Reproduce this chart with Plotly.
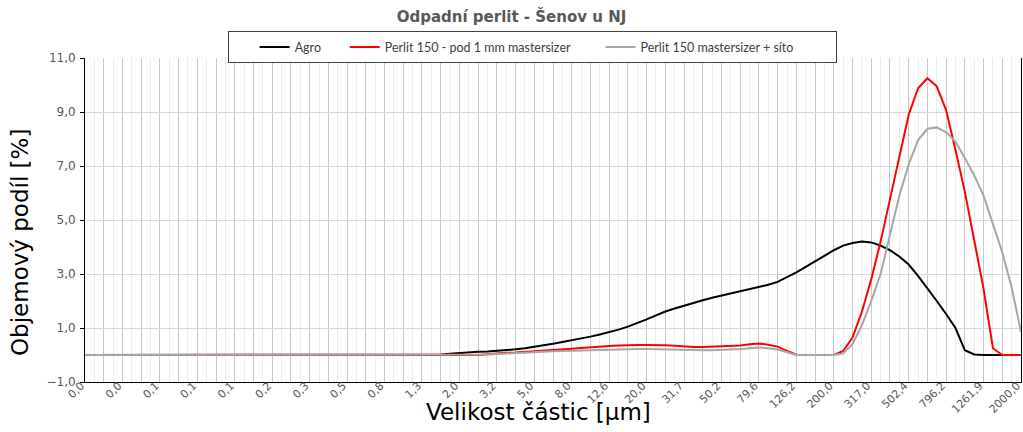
import math
import plotly.graph_objects as go

# Mastersizer size classes [µm]
sizes = [
    0.0200, 0.02244, 0.02518, 0.02825, 0.03170, 0.03557, 0.03991, 0.04477, 0.05024, 0.05637,
    0.06325, 0.07096, 0.07962, 0.08934, 0.1002, 0.1125, 0.1262, 0.1416, 0.1589, 0.1783,
    0.2000, 0.2244, 0.2518, 0.2825, 0.3170, 0.3557, 0.3991, 0.4477, 0.5024, 0.5637,
    0.6325, 0.7096, 0.7962, 0.8934, 1.002, 1.125, 1.262, 1.416, 1.589, 1.783,
    2.000, 2.244, 2.518, 2.825, 3.170, 3.557, 3.991, 4.477, 5.024, 5.637,
    6.325, 7.096, 7.962, 8.934, 10.02, 11.25, 12.62, 14.16, 15.89, 17.83,
    20.00, 22.44, 25.18, 28.25, 31.70, 35.57, 39.91, 44.77, 50.24, 56.37,
    63.25, 70.96, 79.62, 89.34, 100.2, 112.5, 126.2, 141.6, 158.9, 178.3,
    200.0, 224.4, 251.8, 282.5, 317.0, 355.7, 399.1, 447.7, 502.4, 563.7,
    632.5, 709.6, 796.2, 893.4, 1002.0, 1125.0, 1262.0, 1416.0, 1589.0, 1783.0,
    2000.0,
]

tick_labels = ["0,0", "0,0", "0,1", "0,1", "0,1", "0,2", "0,3", "0,5", "0,8", "1,3",
               "2,0", "3,2", "5,0", "8,0", "12,6", "20,0", "31,7", "50,2", "79,6", "126,2",
               "200,0", "317,0", "502,4", "796,2", "1261,9", "2000,0"]

agro = [
    0, 0, 0, 0, 0, 0, 0, 0, 0, 0,
    0, 0, 0, 0, 0, 0, 0, 0, 0, 0,
    0, 0, 0, 0, 0, 0, 0, 0, 0, 0,
    0, 0, 0, 0, 0, 0, 0, 0, 0.02, 0.05,
    0.08, 0.10, 0.12, 0.13, 0.15, 0.17, 0.21, 0.25, 0.30, 0.36,
    0.42, 0.48, 0.54, 0.61, 0.68, 0.76, 0.84, 0.94, 1.05, 1.18,
    1.32, 1.47, 1.61, 1.72, 1.83, 1.93, 2.03, 2.12, 2.20, 2.27,
    2.35, 2.42, 2.50, 2.60, 2.71, 2.88, 3.06, 3.26, 3.47, 3.66,
    3.88, 4.05, 4.15, 4.20, 4.17, 4.05, 3.88, 3.65, 3.35, 2.93,
    2.48, 2.00, 1.52, 1.00, 0.18, 0.02, 0, 0, 0, 0,
    0,
]

perlit_pod_1mm = [
    0, 0, 0, 0, 0, 0, 0, 0, 0, 0,
    0, 0, 0, 0, 0, 0, 0, 0, 0, 0,
    0, 0, 0, 0, 0, 0, 0, 0, 0, 0,
    0, 0, 0, 0, 0, 0, 0, 0, 0, 0,
    0, 0, 0, 0.03, 0.06, 0.08, 0.09, 0.11, 0.13, 0.16,
    0.19, 0.21, 0.23, 0.26, 0.29, 0.31, 0.33, 0.35, 0.37, 0.37,
    0.37, 0.37, 0.36, 0.34, 0.31, 0.30, 0.30, 0.31, 0.31, 0.33,
    0.35, 0.40, 0.43, 0.38, 0.31, 0.15, 0.01, 0, 0, 0,
    0, 0.15, 0.65, 1.60, 2.80, 4.20, 5.74, 7.35, 8.90, 9.88,
    10.25, 9.95, 9.07, 7.59, 6.05, 4.25, 2.45, 0.25, 0, 0,
    0,
]

perlit_sito = [
    0, 0, 0, 0, 0, 0, 0, 0, 0, 0,
    0, 0, 0, 0, 0, 0, 0, 0, 0, 0,
    0, 0, 0, 0, 0, 0, 0, 0, 0, 0,
    0, 0, 0, 0, 0, 0, 0, 0, 0, 0,
    0, 0, 0, 0.02, 0.04, 0.06, 0.08, 0.10, 0.11, 0.13,
    0.14, 0.15, 0.16, 0.18, 0.19, 0.20, 0.21, 0.22, 0.22, 0.22,
    0.22, 0.21, 0.21, 0.20, 0.19, 0.18, 0.18, 0.18, 0.19, 0.20,
    0.22, 0.25, 0.28, 0.25, 0.20, 0.10, 0, 0, 0, 0,
    0, 0.06, 0.40, 1.10, 2.00, 3.00, 4.40, 5.90, 7.05, 7.96,
    8.38, 8.43, 8.25, 7.90, 7.30, 6.65, 5.90, 4.88, 3.80, 2.50,
    0.85,
]

series_names = ["Agro", "Perlit 150 - pod 1 mm mastersizer", "Perlit 150 mastersizer + síto"]
series_values = [agro, perlit_pod_1mm, perlit_sito]
series_colors = ["#000000", "#ff0000", "#a6a6a6"]
legend_pad = ["\u2003\u2003", "\u2003\u2003\u2002", "\u2003\u2003\u2003\u2003"]

y_ticks = [-1, 1, 3, 5, 7, 9, 11]

fig = go.Figure()
for name, vals, col, pad in zip(series_names, series_values, series_colors, legend_pad):
    fig.add_trace(go.Scatter(x=sizes, y=vals, mode="lines", name=name + pad,
                             line=dict(color=col, width=2)))

eps = 1e-6
xr = [math.log10(sizes[0]) - eps, math.log10(sizes[-1]) + eps]
major_idx = list(range(0, len(sizes), 2))
major_vals = [sizes[i] for i in major_idx]
major_text = [tick_labels[i // 4] if i % 4 == 0 else "" for i in major_idx]
minor_vals = [sizes[i] for i in range(1, len(sizes), 2)]

x_tick_font = dict(family="DejaVu Sans", size=11, color="#595959")
y_tick_font = dict(family="DejaVu Sans", size=12, color="#595959")

fig.update_layout(
    width=1023, height=432, autosize=False,
    margin=dict(l=85, r=2, t=58, b=50, autoexpand=False),
    paper_bgcolor="white", plot_bgcolor="white",
    separators=", ",
    showlegend=True,
    title=dict(text="<b>Odpadní perlit - Šenov u NJ</b>", x=0.5, xref="container",
               y=1 - 17 / 432, yref="container", xanchor="center", yanchor="middle",
               font=dict(family="DejaVu Sans", size=15, color="#595959")),
    legend=dict(orientation="h", x=(228 - 85) / 936, xanchor="left", y=1.082, yanchor="top",
                bordercolor="#404040", borderwidth=1, bgcolor="white",
                title=dict(text="\u2003\u2002", font=dict(family="Lato", size=12.5)),
                font=dict(family="Lato", size=12.5, color="#404040")),
    xaxis=dict(type="log", range=xr, tickmode="array", tickvals=major_vals,
               ticktext=major_text, tickangle=-45, tickfont=x_tick_font,
               ticklabelstandoff=-8, ticklabelshift=-4, ticklabeloverflow="allow",
               showgrid=True, gridcolor="#c8c8c8", gridwidth=1,
               minor=dict(tickmode="array", tickvals=minor_vals, showgrid=True,
                          gridcolor="#ececec", gridwidth=1, ticks=""),
               showline=True, linecolor="black", linewidth=1, ticks="",
               zeroline=False),
    xaxis2=dict(type="log", range=xr, overlaying="x", anchor="free", position=1 / 12,
                showline=True, linecolor="black", linewidth=1, tickmode="array",
                tickvals=sizes, ticks="outside", ticklen=3, tickcolor="black",
                showticklabels=False, showgrid=False, zeroline=False),
    xaxis3=dict(type="log", range=xr, overlaying="x", anchor="free", position=1 / 12,
                showline=False, tickmode="array",
                tickvals=sizes, ticks="inside", ticklen=3, tickcolor="black",
                showticklabels=False, showgrid=False, zeroline=False),
    xaxis4=dict(type="log", range=xr, overlaying="x", anchor="y", side="top",
                showline=True, linecolor="#a0a0a0", linewidth=2, ticks="",
                showticklabels=False, showgrid=False, zeroline=False),
    yaxis=dict(range=[-1, 11], tickmode="array", tickvals=y_ticks, tickformat=".1f",
               tickfont=y_tick_font, showgrid=True, gridcolor="#d9d9d9",
               showline=True, linecolor="black", linewidth=1, mirror=True,
               ticks="outside", ticklen=4, tickcolor="black", zeroline=False,
               ticklabelstandoff=2),
    annotations=[
        dict(text="Objemový podíl [%]", textangle=-90, xref="paper", yref="paper",
             x=(20 - 85) / 936, y=(382 - 243) / 324, xanchor="center", yanchor="middle",
             showarrow=False, font=dict(family="DejaVu Sans", size=23, color="black")),
        dict(text="Velikost částic [µm]", xref="paper", yref="paper",
             x=(538 - 85) / 936, y=(382 - 412) / 324, xanchor="center", yanchor="middle",
             showarrow=False, font=dict(family="DejaVu Sans", size=23, color="black")),
    ],
)

fig.write_html("out.html", config={"responsive": False, "displayModeBar": False},
               post_script="document.body.style.margin='0';")
